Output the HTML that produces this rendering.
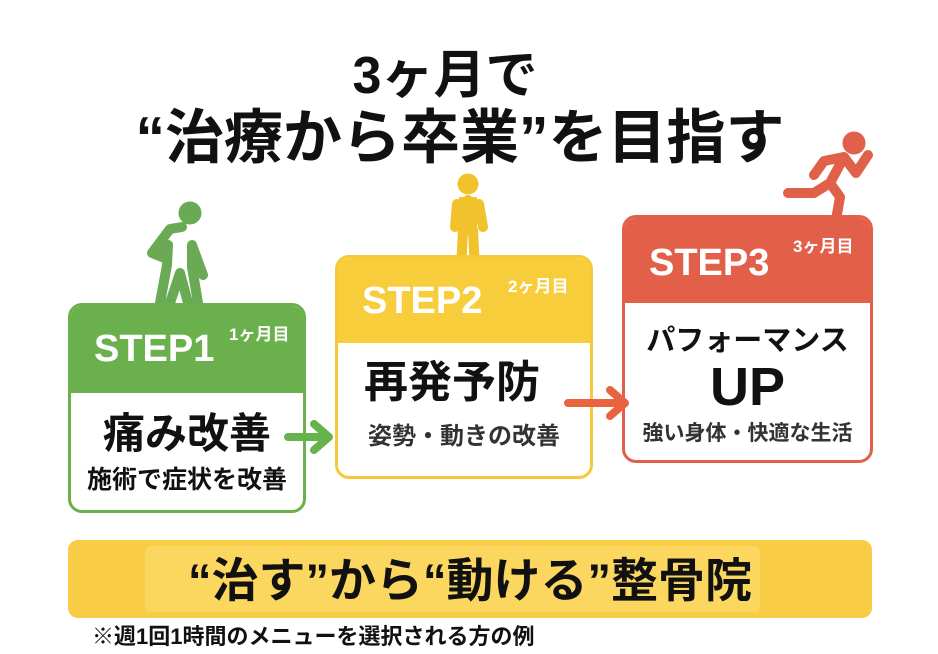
<!DOCTYPE html>
<html><head><meta charset="utf-8"><style>
body{margin:0;width:938px;height:654px;background:#fff;position:relative;overflow:hidden;font-family:"Liberation Sans","Noto Sans CJK JP",sans-serif;font-weight:bold;color:#111}
.a{position:absolute}
.box{position:absolute;border:3px solid;border-radius:14px;background:#fff;overflow:hidden;box-sizing:border-box}
.hd{position:absolute;left:0;right:0;top:0;color:#fff}
.c{text-align:center;white-space:nowrap}
</style></head><body>
<div class="a c" style="left:0;width:890px;top:46px;font-size:52px;line-height:60px">3ヶ月で</div>
<div class="a c" style="left:60px;width:800px;top:102px;font-size:59px;line-height:72px">“治療から卒業”を目指す</div>

<!-- figures -->
<svg class="a" style="left:130px;top:195px" width="90" height="115" viewBox="0 0 90 115">
<g fill="#6aaa55" stroke="#6aaa55" stroke-linecap="round">
<circle cx="60" cy="18" r="11"/>
<path d="M52 32 L40 34 L22 58 L32 62 L38 50 L37 70 L30 108 L40 108 L50 78 L58 108 L68 108 L62 72 L62 50 L73 80" stroke-width="10" fill="none" stroke-linejoin="round"/>
</g></svg>
<svg class="a" style="left:435px;top:172px" width="70" height="100" viewBox="0 0 70 100">
<g stroke="#f2c22c" fill="#f2c22c" stroke-linecap="round" stroke-linejoin="round">
<circle cx="33" cy="12" r="10"/>
<path d="M33 28 L33 58 M22 32 L20 55 M44 32 L48 55 M28 58 L26 98 M38 58 L40 98" stroke-width="10" fill="none"/>
<rect x="25" y="26" width="16" height="34" stroke-width="2"/>
</g></svg>
<svg class="a" style="left:778px;top:125px" width="100" height="100" viewBox="0 0 100 100">
<g stroke="#e0604a" fill="#e0604a" stroke-linecap="round" stroke-linejoin="round">
<circle cx="76" cy="18" r="11"/>
<path d="M66 32 L52 58 M52 58 L36 68 L10 68 M52 58 L62 72 L58 95 M66 32 L46 36 L36 50 M66 32 L78 48 L90 30" stroke-width="10" fill="none"/>
</g></svg>

<!-- box1 -->
<div class="box" style="left:68px;top:303px;width:238px;height:210px;border-color:#6ab04c">
<div class="hd" style="height:87px;background:#6ab04c"></div>
<div class="a" style="left:23px;top:22px;color:#fff;font-size:38px">STEP1</div>
<div class="a" style="left:158px;top:14px;color:#fff;font-size:17px">1ヶ月目</div>
<div class="a c" style="left:0;width:232px;top:102px;font-size:42px;line-height:52px">痛み改善</div>
<div class="a c" style="left:0;width:232px;top:158px;font-size:25px;line-height:32px">施術で症状を改善</div>
</div>
<!-- box2 -->
<div class="box" style="left:335px;top:255px;width:258px;height:224px;border-color:#f7c93a">
<div class="hd" style="height:85px;background:#f8cd3c"></div>
<div class="a" style="left:24px;top:22px;color:#fff;font-size:38px">STEP2</div>
<div class="a" style="left:170px;top:14px;color:#fff;font-size:17px">2ヶ月目</div>
<div class="a" style="left:26px;top:98px;font-size:44px;line-height:54px">再発予防</div>
<div class="a" style="left:30px;top:164px;font-size:24px;line-height:30px;color:#333">姿勢・動きの改善</div>
</div>
<!-- box3 -->
<div class="box" style="left:622px;top:215px;width:251px;height:248px;border-color:#e0604a">
<div class="hd" style="height:85px;background:#e2604a"></div>
<div class="a" style="left:24px;top:24px;color:#fff;font-size:38px">STEP3</div>
<div class="a" style="left:168px;top:14px;color:#fff;font-size:17px">3ヶ月目</div>
<div class="a c" style="left:0;width:245px;top:104px;font-size:29px;line-height:38px">パフォーマンス</div>
<div class="a c" style="left:0;width:245px;top:138px;font-size:54px;line-height:62px">UP</div>
<div class="a c" style="left:0;width:245px;top:202px;font-size:21px;line-height:28px;color:#333">強い身体・快適な生活</div>
</div>

<!-- arrows -->
<svg class="a" style="left:280px;top:415px" width="60" height="45"><path d="M8 22 H46 M34 9 L49 22 L34 35" stroke="#66b24b" stroke-width="8" fill="none" stroke-linecap="round" stroke-linejoin="round"/></svg>
<svg class="a" style="left:560px;top:382px" width="75" height="45"><path d="M8 21 H62 M50 8 L65 21 L50 34" stroke="#e8633e" stroke-width="8" fill="none" stroke-linecap="round" stroke-linejoin="round"/></svg>

<!-- banner -->
<div class="a" style="left:68px;top:540px;width:804px;height:78px;background:#f8cd45;border-radius:10px"></div>
<div class="a" style="left:145px;top:546px;width:615px;height:66px;background:#fbd760;border-radius:6px"></div>
<div class="a c" style="left:68px;width:804px;top:553px;font-size:47px;line-height:56px">“治す”から“動ける”整骨院</div>
<div class="a" style="left:92px;top:623px;font-size:22px;line-height:28px">※週1回1時間のメニューを選択される方の例</div>
</body></html>
